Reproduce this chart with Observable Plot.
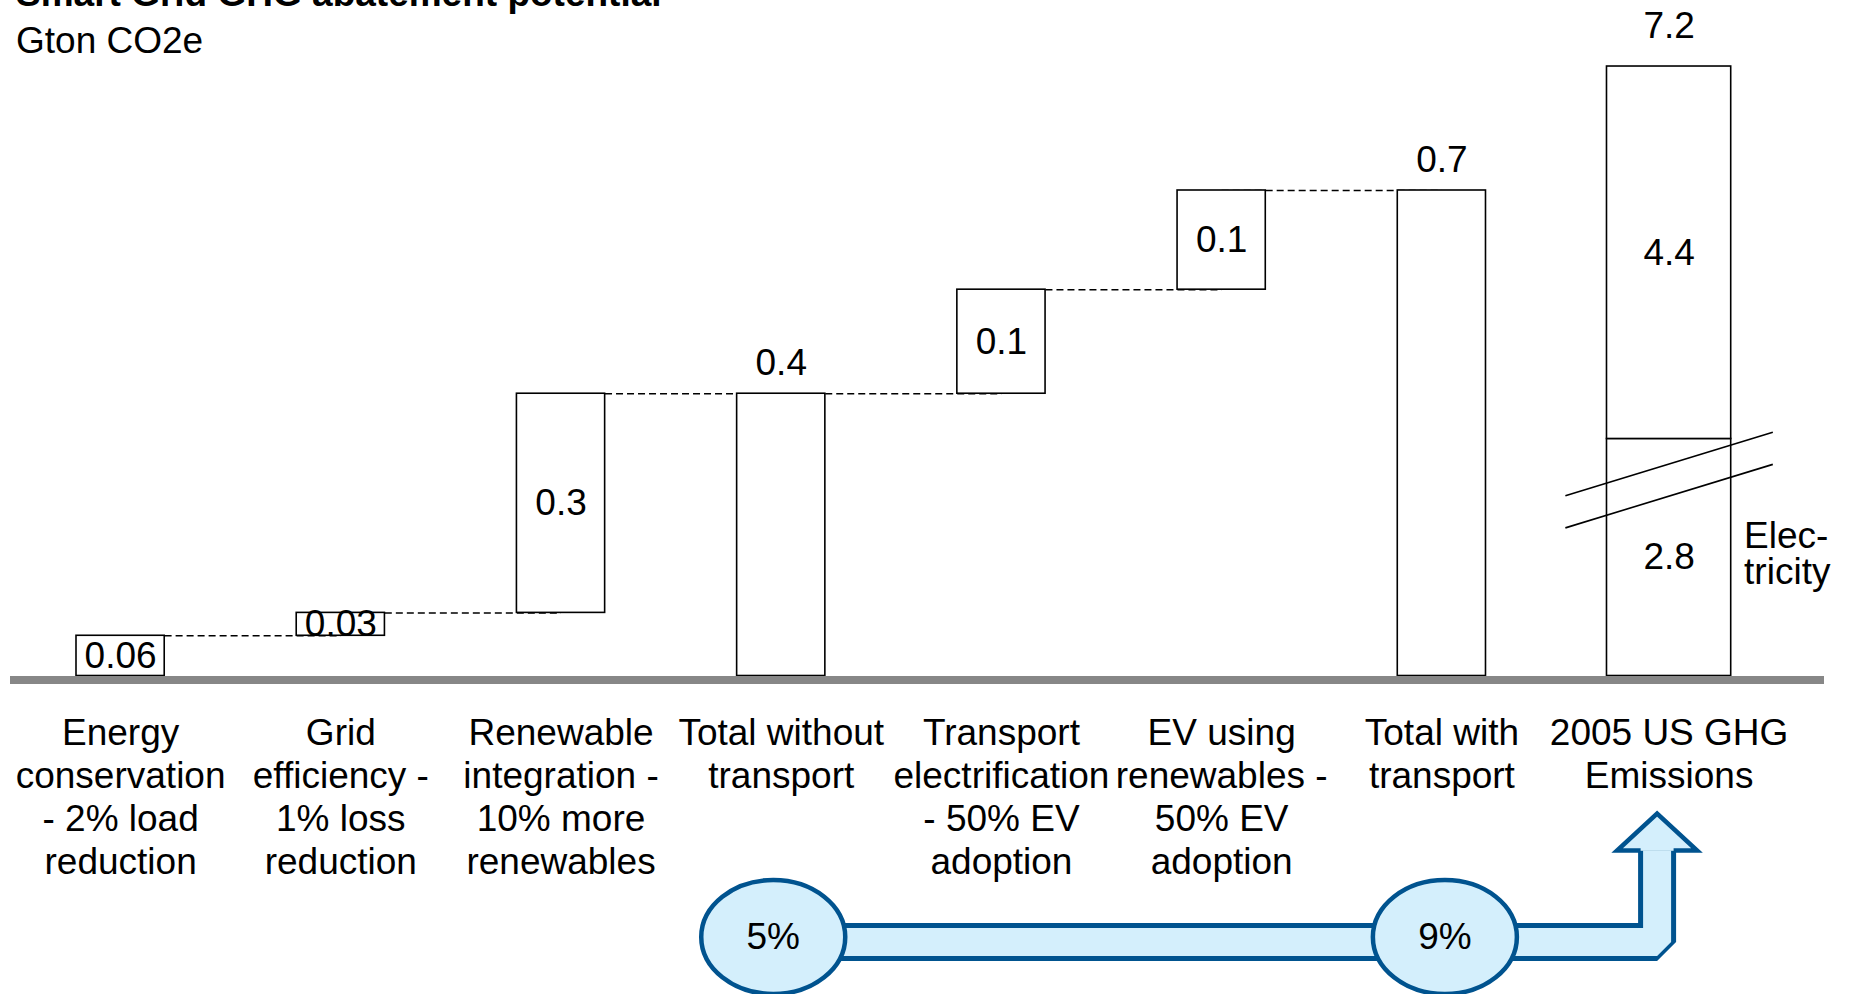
<!DOCTYPE html>
<html><head><meta charset="utf-8">
<script src="https://cdn.jsdelivr.net/npm/d3@7"></script>
<script src="https://cdn.jsdelivr.net/npm/@observablehq/plot@0.6"></script>
<style>
html,body{margin:0;padding:0;background:#fff;}
#wrap{position:relative;width:1850px;height:994px;overflow:hidden;font-family:"Liberation Sans",Arial,sans-serif;color:#000;}
#chart{position:absolute;left:0;top:0;}
#title{position:absolute;left:16px;top:-25px;font-size:37px;font-weight:bold;line-height:37px;white-space:nowrap;}
#subtitle{position:absolute;left:16px;top:22px;font-size:37px;line-height:37px;white-space:nowrap;}
</style></head>
<body>
<div id="wrap">
  <div id="chart"></div>
  <div id="title">Smart Grid GHG abatement potential</div>
  <div id="subtitle">Gton CO2e</div>
</div>
<script>
// ---- data ----
const categories = [
  "Energy\nconservation\n- 2% load\nreduction",
  "Grid\nefficiency -\n1% loss\nreduction",
  "Renewable\nintegration -\n10% more\nrenewables",
  "Total without\ntransport",
  "Transport\nelectrification\n- 50% EV\nadoption",
  "EV using\nrenewables -\n50% EV\nadoption",
  "Total with\ntransport",
  "2005 US GHG\nEmissions"
];
// abatement steps (Gton CO2e); null = running-total bar
const stepValues = [0.058, 0.033, 0.316, null, 0.150, 0.143, null];
const stepLabels = ["0.06", "0.03", "0.3", "0.4", "0.1", "0.1", "0.7"];
// 2005 US GHG emissions split (Gton CO2e)
const ghgSegments = ["Electricity", "Other"];
const ghgValues = [2.8, 4.4];
const ghgLabels = ["2.8", "4.4"];
const ghgTotalLabel = "7.2";
const ghgSideLabel = "Elec-\ntricity";
// share of 2005 emissions
const shareLabels = ["5%", "9%"];
const shareCategories = ["Total without\ntransport", "Total with\ntransport"];

// ---- derived tables ----
let run = 0;
const steps = stepValues.map((v, i) => {
  const total = v == null;
  const y1 = total ? 0 : run;
  if (!total) run += v;
  return {i, y1, y2: run, total, label: stepLabels[i]};
});
const ghgIndex = categories.length - 1;
let acc = 0;
const ghg = ghgValues.map((v, j) => {
  const s = {seg: ghgSegments[j], y1: acc, y2: acc + v, label: ghgLabels[j]};
  acc += v;
  return s;
});
const ghgTotal = acc;
const BREAK = 0.12205; // broken axis: GHG bar drawn compressed
const cats = categories.map((c, i) => ({c, i}));
const shares = shareLabels.map((s, j) => ({s, j, i: categories.indexOf(shareCategories[j])}));

// layout constants (display units)
const flowY = -0.3835, headY = -0.2516, ellY = -0.3763;
const flowPath = [
  {x: shares[0].i, y: flowY},
  {x: ghgIndex, y: flowY},
  {x: ghgIndex, y: headY}
];
const breaks = [[2.13, 2.88], [1.75, 2.50]];

const dark = "#00538f", light = "#d4effc";
const ellipseSymbol = {draw(ctx) {
  const rx = 72, ry = 57, k = 0.5523;
  ctx.moveTo(rx, 0);
  ctx.bezierCurveTo(rx, ry * k, rx * k, ry, 0, ry);
  ctx.bezierCurveTo(-rx * k, ry, -rx, ry * k, -rx, 0);
  ctx.bezierCurveTo(-rx, -ry * k, -rx * k, -ry, 0, -ry);
  ctx.bezierCurveTo(rx * k, -ry, rx, -ry * k, rx, 0);
  ctx.closePath();
}};
const headSymbol = {draw(ctx) {
  ctx.moveTo(-16.5, 0);
  ctx.lineTo(-40, 0);
  ctx.lineTo(0, -37);
  ctx.lineTo(40, 0);
  ctx.lineTo(16.5, 0);
}};

const FS = 37;
const shareOffsets = [-8, 3];
const chart = Plot.plot({
  width: 1850,
  height: 994,
  marginLeft: 10,
  marginRight: 26,
  marginTop: 0,
  marginBottom: 0,
  style: {fontFamily: "'Liberation Sans', Arial, sans-serif", fontSize: "37px", background: "transparent", color: "#000"},
  x: {type: "linear", domain: [-0.5, 7.5], range: [10, 1771.7], axis: null},
  y: {type: "linear", domain: [0, 0.7], range: [675.5, 190], axis: null},
  marks: [
    // flow arrow at the bottom
    Plot.line(flowPath, {x: "x", y: "y", dx: -5, stroke: dark, strokeWidth: 38, strokeLinejoin: "miter", strokeLinecap: "butt", curve: "linear"}),
    Plot.line(flowPath, {x: "x", y: "y", dx: -5, stroke: light, strokeWidth: 28, strokeLinejoin: "miter", strokeLinecap: "butt", curve: "linear"}),
    Plot.dot([0], {x: ghgIndex, y: headY, dx: -5, symbol: headSymbol, fill: light, stroke: dark, strokeWidth: 4.5, strokeLinejoin: "miter"}),
    ...shares.map(sh => [
      Plot.dot([sh], {x: "i", y: ellY, dx: shareOffsets[sh.j], symbol: ellipseSymbol, fill: light, stroke: dark, strokeWidth: 4.5}),
      Plot.text([sh], {x: "i", y: ellY, dx: shareOffsets[sh.j], text: "s", fontSize: FS})
    ]).flat(),
    // dashed connectors
    Plot.link(steps.slice(0, -1), {x1: "i", x2: d => d.i + 1, y1: "y2", y2: "y2", stroke: "#000", strokeWidth: 1.5, strokeDasharray: "7,4"}),
    // waterfall bars
    Plot.rectY(steps, {x1: d => d.i - 0.5, x2: d => d.i + 0.5, y1: "y1", y2: "y2", insetLeft: 66, insetRight: 66, fill: "#fff", stroke: "#000", strokeWidth: 1.6}),
    Plot.text(steps.filter(d => !d.total), {x: "i", y: d => (d.y1 + d.y2) / 2, text: "label", fontSize: FS}),
    Plot.text(steps.filter(d => d.total), {x: "i", y: "y2", text: "label", fontSize: FS, lineAnchor: "bottom", dy: -19}),
    // 2005 US GHG bar (compressed scale)
    Plot.rectY(ghg, {x1: ghgIndex - 0.5, x2: ghgIndex + 0.5, y1: d => d.y1 * BREAK, y2: d => d.y2 * BREAK, insetLeft: 48, insetRight: 48, dx: 7, fill: "#fff", stroke: "#000", strokeWidth: 1.6}),
    Plot.text(ghg, {x: ghgIndex, y: d => (d.y1 + d.y2) / 2 * BREAK, text: "label", dx: 7, fontSize: FS}),
    Plot.text([ghgTotalLabel], {x: ghgIndex, y: ghgTotal * BREAK, text: d => d, dx: 7, dy: -29, lineAnchor: "bottom", fontSize: FS}),
    Plot.link(breaks, {x1: ghgIndex - 0.471, x2: ghgIndex + 0.471, y1: d => d[0] * BREAK, y2: d => d[1] * BREAK, dx: 7, stroke: "#000", strokeWidth: 1.6}),
    Plot.text([ghgSideLabel], {x: ghgIndex, y: ghgValues[0] / 2 * BREAK, text: d => d, dx: 82, dy: -3, textAnchor: "start", lineAnchor: "middle", lineHeight: 0.96, fontSize: FS}),
    // category axis
    Plot.ruleY([0], {stroke: "#878787", strokeWidth: 8, dy: 4}),
    Plot.text(cats.filter(d => d.i < ghgIndex), {x: "i", y: 0, text: "c", dy: 38.5, lineAnchor: "top", lineHeight: 1.165, fontSize: FS}),
    Plot.text(cats.filter(d => d.i === ghgIndex), {x: "i", y: 0, text: "c", dx: 7, dy: 38.5, lineAnchor: "top", lineHeight: 1.165, fontSize: FS})
  ]
});
document.getElementById("chart").appendChild(chart);
</script>
</body></html>
